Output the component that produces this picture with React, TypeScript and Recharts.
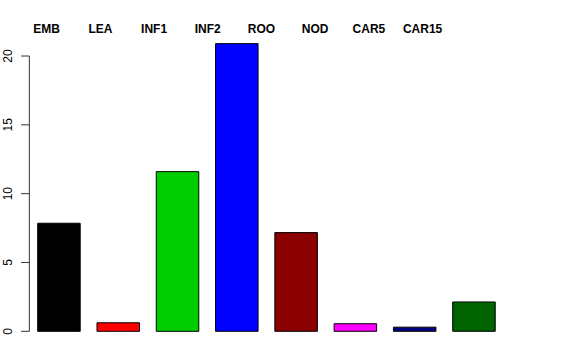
import { BarChart, Bar, XAxis, YAxis, Cell, ReferenceLine } from "recharts"

const categories = ["EMB", "LEA", "INF1", "INF2", "ROO", "NOD", "CAR5", "CAR15"]
const values = [7.85, 0.62, 11.6, 20.9, 7.17, 0.55, 0.3, 2.13]
const colors = ["#000000", "#FF0000", "#00CD00", "#0000FF", "#8B0000", "#FF00FF", "#000080", "#006400"]
const yTicks = [0, 5, 10, 15, 20]

const data = categories.map((name, i) => ({ name, value: values[i] }))

const font = "'Liberation Sans', Arial, Helvetica, sans-serif"

function YTick(props: any) {
  const { x, y, payload } = props
  const lx = x - 7.85
  return (
    <g>
      <line x1={x + 1.2} x2={x + 9.5} y1={y} y2={y} stroke="#333" strokeWidth={1} />
      <text
        x={lx}
        y={y}
        transform={`rotate(-90 ${lx} ${y})`}
        textAnchor="middle"
        fontSize={12}
        fontFamily={font}
        fill="#000"
      >
        {payload.value}
      </text>
    </g>
  )
}

function TopTick(props: any) {
  const { x, y, payload } = props
  return (
    <text x={x} y={y + 4.5} textAnchor="middle" fontSize={12} fontWeight="bold" fontFamily={font} fill="#000">
      {payload.value}
    </text>
  )
}

export default function App() {
  return (
    <div style={{ position: "absolute", left: 0, top: 0, background: "#fff" }}>
      <BarChart width={576} height={360} data={data} margin={{ top: 0, right: 72, bottom: 28.7, left: 0 }}>
        <XAxis xAxisId="bars" dataKey="name" hide padding={{ left: 9.85, right: 0 }} />
        <XAxis
          xAxisId="top"
          dataKey="name"
          orientation="top"
          height={28.5}
          axisLine={false}
          tickLine={false}
          tickSize={0}
          tickMargin={0}
          interval={0}
          padding={{ left: 0, right: 54.55 }}
          tick={<TopTick />}
        />
        <XAxis xAxisId="line" type="number" domain={[0, 1]} allowDataOverflow hide padding={{ left: 9.5, right: 0 }} />
        <YAxis
          domain={[0, 22]}
          ticks={yTicks}
          width={19.85}
          axisLine={false}
          tickLine={false}
          tickSize={0}
          tickMargin={0}
          interval={0}
          tick={<YTick />}
        />
        <ReferenceLine
          xAxisId="line"
          segment={[
            { x: 0, y: 0 },
            { x: 0, y: 20 },
          ]}
          stroke="#333"
          strokeWidth={1}
          ifOverflow="visible"
        />
        <Bar xAxisId="bars" dataKey="value" barSize={42.5} stroke="#000" strokeWidth={1} isAnimationActive={false}>
          {data.map((d, i) => (
            <Cell key={d.name} fill={colors[i]} />
          ))}
        </Bar>
      </BarChart>
    </div>
  )
}
